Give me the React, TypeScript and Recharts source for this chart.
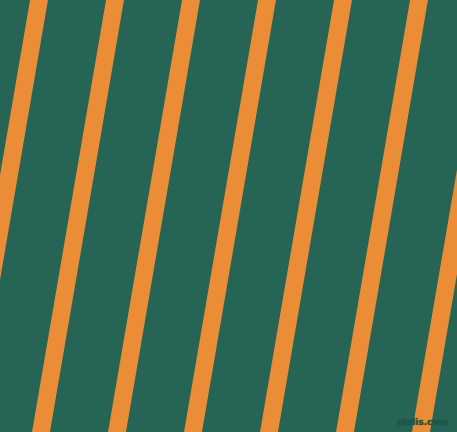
import { LineChart, Line, XAxis, YAxis } from 'recharts'

// stripe centre positions (px) at the top edge and the bottom edge
const stripeKeys = ['s0', 's1', 's2', 's3', 's4', 's5', 's6', 's7']
const topCenters = [-37, 39, 115, 191, 267, 343, 419, 495]
const bottomCenters = [-111, -35, 41, 117, 193, 269, 345, 421]
const rowLevels = [0, 432]

const W = 457
const H = 432
const GREEN = '#266455'
const ORANGE = '#EB8C36'

const data = rowLevels.map((y, r) => {
  const row: Record<string, number> = { y }
  stripeKeys.forEach((k, i) => {
    row[k] = r === 0 ? topCenters[i] : bottomCenters[i]
  })
  return row
})

export default function App() {
  return (
    <div style={{ position: 'absolute', left: 0, top: 0, width: W, height: H, background: GREEN, overflow: 'hidden' }}>
      <LineChart width={W} height={H} data={data} layout="vertical" margin={{ top: 0, right: 0, bottom: 0, left: 0 }}>
        <XAxis type="number" domain={[0, W]} allowDataOverflow hide />
        <YAxis type="number" dataKey="y" domain={[0, H]} allowDataOverflow hide />
        {stripeKeys.map((k) => (
          <Line
            key={k}
            dataKey={k}
            stroke={ORANGE}
            strokeWidth={17.7}
            strokeLinecap="square"
            dot={false}
            activeDot={false}
            isAnimationActive={false}
          />
        ))}
      </LineChart>
      <div
        style={{
          position: 'absolute',
          right: 9,
          bottom: 5,
          fontFamily: 'DejaVu Sans, sans-serif',
          fontSize: 9,
          fontWeight: 'bold',
          lineHeight: '10px',
          color: '#225a4b',
          textShadow: '0 0 1px #153a30',
        }}
      >
        pixlis.com
      </div>
    </div>
  )
}
